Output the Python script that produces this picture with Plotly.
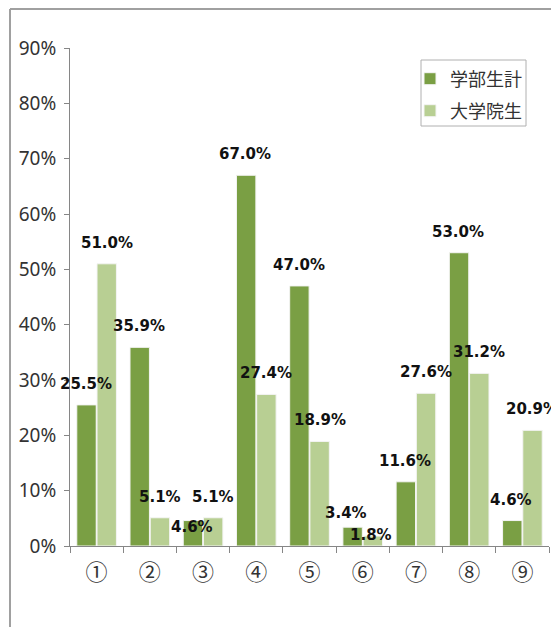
import plotly.graph_objects as go

categories = ["①", "②", "③", "④", "⑤", "⑥", "⑦", "⑧", "⑨"]
undergrad = [25.5, 35.9, 4.6, 67.0, 47.0, 3.4, 11.6, 53.0, 4.6]
grad = [51.0, 5.1, 5.1, 27.4, 18.9, 1.8, 27.6, 31.2, 20.9]
series_names = ["学部生計", "大学院生"]
ytick_vals = [0, 10, 20, 30, 40, 50, 60, 70, 80, 90]
ytick_text = [f"{v}%" for v in ytick_vals]

# label nudges (style only): (category index, series index) -> (dx, dy) in px
label_nudge = {(2, 0): (0, -27), (5, 0): (-6, -7), (5, 1): (-2, -20)}

DARK = "#7A9F44"
LIGHT = "#B8CF93"
JP = "Noto Sans CJK JP, Noto Sans, DejaVu Sans"

# the page body has an 8px margin; figure is sized to the visible window area
OFF = 8
WIN_W, WIN_H = 559, 627
W, H = WIN_W - OFF, WIN_H - OFF
AX_L, AX_R, AX_T, AX_B = 70, 549, 48, 546  # plot area in window pixels
L, R, T, B = AX_L - OFF, WIN_W - AX_R, AX_T - OFF, WIN_H - AX_B
pw, ph = AX_R - AX_L, AX_B - AX_T


def px(xp):
    return (xp - AX_L) / pw


def py(yp):
    return (AX_B - yp) / ph


fig = go.Figure()
fig.add_trace(go.Bar(x=categories, y=undergrad, name=series_names[0], legend="legend",
                     marker=dict(color=DARK, line=dict(color="#F4F4F4", width=1))))
fig.add_trace(go.Bar(x=categories, y=grad, name=series_names[1], legend="legend2",
                     marker=dict(color=LIGHT, line=dict(color="#F4F4F4", width=1))))

ann = []
for i, (c, a, b) in enumerate(zip(categories, undergrad, grad)):
    for s, (val, xs) in enumerate(((a, -11), (b, 10))):
        dx, dy = label_nudge.get((i, s), (0, 0))
        ann.append(dict(x=c, y=val, xref="x", yref="y", text=f"<b>{val:.1f}%</b>",
                        showarrow=False, xshift=xs + dx, yshift=21 + dy, yanchor="middle",
                        font=dict(family="DejaVu Sans", size=15, color="#111111")))

legend_common = dict(xanchor="left", yanchor="middle", bgcolor="rgba(0,0,0,0)",
                     borderwidth=0, font=dict(family=JP, size=18, color="#333333"),
                     itemwidth=30)

fig.update_layout(
    width=W, height=H,
    margin=dict(l=L, r=R, t=T, b=B, pad=0),
    paper_bgcolor="white", plot_bgcolor="white",
    barmode="group", bargap=0.24, bargroupgap=0.04,
    showlegend=True,
    legend=dict(x=px(410), y=py(79), **legend_common),
    legend2=dict(x=px(410), y=py(111), **legend_common),
    annotations=ann,
    shapes=[
        dict(type="line", xref="paper", yref="paper",
             x0=px(10), x1=px(10), y0=py(640), y1=py(9),
             line=dict(color="#A0A0A0", width=2), layer="below"),
        dict(type="line", xref="paper", yref="paper",
             x0=px(10), x1=px(565), y0=py(9), y1=py(9),
             line=dict(color="#A0A0A0", width=2), layer="below"),
        dict(type="rect", xref="paper", yref="paper",
             x0=px(421), x1=px(526), y0=py(126), y1=py(60),
             line=dict(color="#B0B0B0", width=1), fillcolor="white", layer="below"),
    ],
    xaxis=dict(type="category", range=[-0.5, 8.5], automargin=False,
               tickson="boundaries", ticks="outside", ticklen=6,
               tickcolor="#868686", showline=True, linecolor="#868686", linewidth=1,
               tickfont=dict(family="Noto Sans CJK JP", size=22, color="#333333"),
               ticklabelstandoff=7, showgrid=False),
    yaxis=dict(range=[0, 90], automargin=False, tickvals=ytick_vals, ticktext=ytick_text,
               ticks="outside", ticklen=5, tickcolor="#868686",
               showline=True, linecolor="#868686", linewidth=1,
               showgrid=False, zeroline=False, ticklabelstandoff=4,
               tickfont=dict(family="Noto Sans, DejaVu Sans", size=19, color="#333333")),
)

fig.write_html("out.html")
